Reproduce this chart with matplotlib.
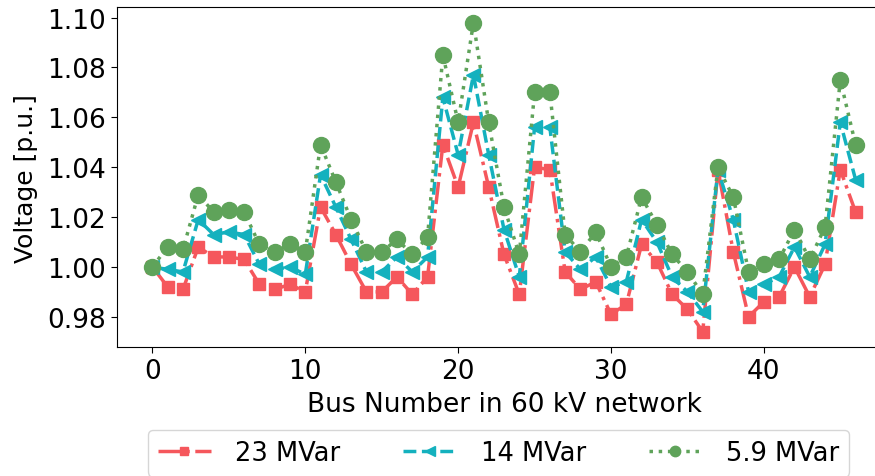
import matplotlib.pyplot as plt
import numpy as np

# bus voltages for three reactive power levels
bus = np.arange(47)

v_23 = [1.000, 0.992, 0.991, 1.008, 1.004, 1.004, 1.003, 0.993, 0.991, 0.993,
        0.990, 1.024, 1.013, 1.001, 0.990, 0.990, 0.996, 0.989, 0.996, 1.049,
        1.032, 1.058, 1.032, 1.005, 0.989, 1.040, 1.039, 0.998, 0.991, 0.994,
        0.981, 0.985, 1.009, 1.002, 0.989, 0.983, 0.974, 1.039, 1.006, 0.980,
        0.986, 0.988, 1.000, 0.988, 1.001, 1.039, 1.022]

v_14 = [1.000, 0.999, 0.998, 1.019, 1.013, 1.014, 1.013, 1.001, 0.999, 1.000,
        0.997, 1.037, 1.024, 1.011, 0.998, 0.998, 1.004, 0.998, 1.004, 1.068,
        1.045, 1.077, 1.045, 1.015, 0.996, 1.056, 1.056, 1.006, 0.999, 1.004,
        0.992, 0.994, 1.019, 1.010, 0.996, 0.990, 0.982, 1.039, 1.019, 0.990,
        0.993, 0.996, 1.008, 0.996, 1.009, 1.058, 1.035]

v_59 = [1.000, 1.008, 1.007, 1.029, 1.022, 1.023, 1.022, 1.009, 1.006, 1.009,
        1.006, 1.049, 1.034, 1.019, 1.006, 1.006, 1.011, 1.005, 1.012, 1.085,
        1.058, 1.098, 1.058, 1.024, 1.005, 1.070, 1.070, 1.013, 1.006, 1.014,
        1.000, 1.004, 1.028, 1.017, 1.005, 0.998, 0.989, 1.040, 1.028, 0.998,
        1.001, 1.003, 1.015, 1.003, 1.016, 1.075, 1.049]

labels = ["23 MVar", "14 MVar", "5.9 MVar"]

plt.rcParams['font.size'] = 19

fig = plt.figure(figsize=(8.75, 4.77), dpi=100)
ax = fig.add_axes([0.134, 0.27, 0.884, 0.713])

ax.plot(bus, v_23, marker='s', linestyle='-.', color='#f5575c', lw=2.5, ms=9, label=labels[0])
ax.plot(bus, v_14, marker='<', linestyle='--', color='#14b1be', lw=2.5, ms=10, label=labels[1])
ax.plot(bus, v_59, marker='o', linestyle=':', color='#5fa35a', lw=2.5, ms=11.5, label=labels[2])

ax.set_xticks([0, 10, 20, 30, 40])
ax.set_yticks([0.98, 1.00, 1.02, 1.04, 1.06, 1.08, 1.10])
ax.tick_params(length=4.5)
ax.set_xlabel("Bus Number in 60 kV network", labelpad=5)
ax.set_ylabel("Voltage [p.u.]", fontsize=18, labelpad=7)

fig.legend(loc='upper left', bbox_to_anchor=(0.169, 0.0964), borderaxespad=0,
           ncol=3, fontsize=18.5, columnspacing=2.45, handlelength=2.05,
           handletextpad=0.95, markerscale=0.65)

fig.savefig("out.png", dpi=100)
